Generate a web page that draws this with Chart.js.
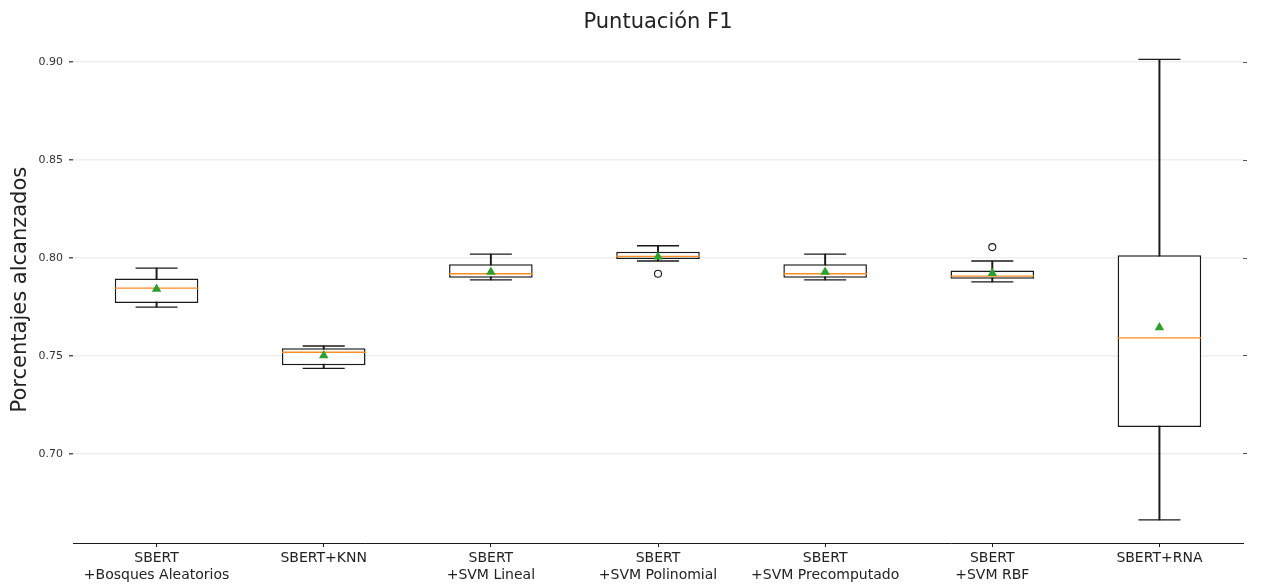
<!DOCTYPE html>
<html lang="es">
<head>
    <meta charset="UTF-8">
    <title>Puntuación F1</title>
    <script src="https://cdn.jsdelivr.net/npm/chart.js"></script>
    <style>
        body { margin: 0; background: #fff; }
        #wrap { width: 1267px; height: 586px; position: relative; }
    </style>
</head>
<body>
    <div id="wrap"><canvas id="f1-chart"></canvas></div>

    <script>
        const categories = [
            ['SBERT', '+Bosques Aleatorios'],
            'SBERT+KNN',
            ['SBERT', '+SVM Lineal'],
            ['SBERT', '+SVM Polinomial'],
            ['SBERT', '+SVM Precomputado'],
            ['SBERT', '+SVM RBF'],
            'SBERT+RNA'
        ];
        const whiskerLow  = [0.7750, 0.7437, 0.7889, 0.7985, 0.7889, 0.7878, 0.6663];
        const q1          = [0.7770, 0.7453, 0.7900, 0.7995, 0.7900, 0.7894, 0.7137];
        const medians     = [0.7847, 0.7519, 0.7920, 0.8009, 0.7920, 0.7908, 0.7592];
        const q3          = [0.7896, 0.7539, 0.7968, 0.8032, 0.7968, 0.7937, 0.8015];
        const whiskerHigh = [0.7949, 0.7551, 0.8020, 0.8063, 0.8020, 0.7985, 0.9015];
        const means       = [0.7842, 0.7502, 0.7929, 0.8007, 0.7929, 0.7922, 0.7645];
        const outliers    = [null, null, null, 0.7920, null, 0.8056, null];
        const yTicks = [0.70, 0.75, 0.80, 0.85, 0.90];
        const yMin = 0.6545, yMax = 0.9133;

        const font = 'DejaVu Sans';
        const ink = '#1a1a1a';

        const boxes = q1.map((v, i) => [v, q3[i]]);
        const whiskers = whiskerLow.map((v, i) => [v, whiskerHigh[i]]);

        function pointSet(label, data, style, radius, fill, border, width, order) {
            return {
                type: 'line',
                label: label,
                data: data,
                showLine: false,
                pointStyle: style,
                pointRadius: radius,
                pointHoverRadius: radius,
                pointBackgroundColor: fill,
                pointBorderColor: border,
                pointBorderWidth: width,
                order: order
            };
        }

        const yScale = {
            min: yMin,
            max: yMax,
            afterBuildTicks: scale => { scale.ticks = yTicks.map(v => ({ value: v })); }
        };

        new Chart(document.getElementById('f1-chart'), {
            type: 'bar',
            data: {
                labels: categories,
                datasets: [
                    pointSet('Media', means, 'triangle', 5.5, '#2ca02c', '#2ca02c', 0, 0),
                    pointSet('Mediana', medians, 'line', 41.8, '#ff7f0e', '#ff8c1f', 1.3, 1),
                    pointSet('Atípicos', outliers, 'circle', 3.5, '#ffffff', ink, 1.1, 2),
                    pointSet('Máx', whiskerHigh, 'line', 21, ink, ink, 1.3, 3),
                    pointSet('Mín', whiskerLow, 'line', 21, ink, ink, 1.3, 3),
                    {
                        label: 'Caja',
                        data: boxes,
                        backgroundColor: '#ffffff',
                        borderColor: ink,
                        borderWidth: 1.5,
                        borderSkipped: false,
                        grouped: false,
                        categoryPercentage: 1,
                        barPercentage: 0.5,
                        order: 4
                    },
                    {
                        label: 'Bigotes',
                        data: whiskers,
                        backgroundColor: ink,
                        borderWidth: 0,
                        grouped: false,
                        barThickness: 1.3,
                        order: 5
                    }
                ]
            },
            options: {
                responsive: true,
                maintainAspectRatio: false,
                animation: false,
                events: [],
                layout: { padding: 0, autoPadding: false },
                plugins: {
                    legend: { display: false },
                    tooltip: { enabled: false },
                    title: {
                        display: true,
                        text: 'Puntuación F1',
                        fullSize: false,
                        color: '#222',
                        font: { family: font, size: 21, weight: 'normal' },
                        padding: { top: 10, bottom: 1 }
                    }
                },
                scales: {
                    x: {
                        offset: true,
                        grid: {
                            offset: false,
                            drawOnChartArea: false,
                            tickColor: ink,
                            tickWidth: 1,
                            tickLength: 4
                        },
                        border: { color: ink, width: 1 },
                        ticks: {
                            color: '#222',
                            padding: 3,
                            maxRotation: 0,
                            autoSkip: false,
                            font: { family: font, size: 14, lineHeight: 1.2 }
                        },
                        afterFit: scale => {
                            scale.height = 43;
                            scale.paddingLeft = 0;
                            scale.paddingRight = 0;
                        }
                    },
                    y: Object.assign({}, yScale, {
                        position: 'left',
                        grid: {
                            color: '#efefef',
                            lineWidth: 1.5,
                            tickColor: '#555',
                            tickLength: 4
                        },
                        border: { display: false },
                        ticks: {
                            color: '#333',
                            padding: 6,
                            font: { family: font, size: 11 },
                            callback: v => Number(v).toFixed(2)
                        },
                        title: {
                            display: true,
                            text: 'Porcentajes alcanzados',
                            color: '#222',
                            font: { family: font, size: 21 },
                            padding: { top: 8, bottom: 0 }
                        },
                        afterFit: scale => {
                            scale.width = 73;
                            scale.paddingTop = 0;
                            scale.paddingBottom = 0;
                        }
                    }),
                    y2: Object.assign({}, yScale, {
                        position: 'right',
                        grid: {
                            drawOnChartArea: false,
                            tickColor: '#555',
                            tickLength: 4
                        },
                        border: { display: false },
                        ticks: { padding: 0, callback: () => '' },
                        afterFit: scale => {
                            scale.width = 24;
                            scale.paddingTop = 0;
                            scale.paddingBottom = 0;
                        }
                    })
                }
            }
        });
    </script>
</body>
</html>
